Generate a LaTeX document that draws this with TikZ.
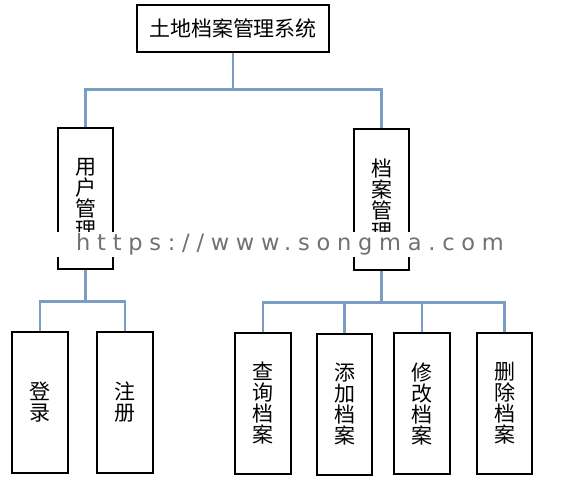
\documentclass[tikz,border=0pt]{standalone}
\usepackage{fontspec}
\newfontfamily\cjk{Noto Sans CJK SC}
\newfontfamily\wmfont[LetterSpace=30]{DejaVu Sans}
\definecolor{linkblue}{RGB}{122,157,198}
\definecolor{wmgray}{RGB}{112,112,118}
\tikzset{
  box/.style={draw=black, line width=1.2pt, fill=white, inner sep=0pt, align=center,
    font=\cjk\fontsize{21}{21}\selectfont},
  link/.style={draw=linkblue, line width=2.4pt},
  wm/.style={fill=white, inner sep=0pt, text=wmgray, font=\wmfont\fontsize{22.5}{24}\selectfont},
}

\begin{document}
\begin{tikzpicture}[x=1pt, y=-1pt]
			%%%%% START %%%%%
			\useasboundingbox (0, 0) rectangle (571, 489);
			
			\node[box, minimum width=192, minimum height=47] (sys) at (233, 28.5) {土地档案管理系统};
			
			\node[box, minimum width=55, minimum height=141] (user) at (85.5, 198.5) {用\\户\\管\\理};
			\node[box, minimum width=55, minimum height=141] (arch) at (381.5, 199.5) {档\\案\\管\\理};
			
			\node[box, minimum width=56, minimum height=141] (login) at (40, 402.5) {登\\录};
			\node[box, minimum width=56, minimum height=141] (reg) at (125, 402.5) {注\\册};
			
			\node[box, minimum width=56, minimum height=141] (query) at (263, 403.5) {查\\询\\档\\案};
			\node[box, minimum width=55, minimum height=141] (add) at (344.5, 404.5) {添\\加\\档\\案};
			\node[box, minimum width=56, minimum height=141] (edit) at (422, 403.5) {修\\改\\档\\案};
			\node[box, minimum width=55, minimum height=141] (del) at (504.5, 403.5) {删\\除\\档\\案};
			
			\draw[link] (sys.south) -- ++(0, 37) -| (user.north);
			\draw[link] (sys.south) -- ++(0, 37) -| (arch.north);
			
			\draw[link] (user.south) -- ++(0, 32) -| (login.north);
			\draw[link] (user.south) -- ++(0, 32) -| (reg.north);
			
			\draw[link] (arch.south) -- ++(0, 32) -| (query.north);
			\draw[link] (arch.south) -- ++(0, 32) -| (add.north);
			\draw[link] (arch.south) -- ++(0, 32) -| (edit.north);
			\draw[link] (arch.south) -- ++(0, 32) -| (del.north);
			
			\node[wm, minimum width=475, minimum height=25] (mark) at (290, 244.5) {https://www.songma.com};
			
			%%%%% END %%%%%
\end{tikzpicture}
\end{document}
